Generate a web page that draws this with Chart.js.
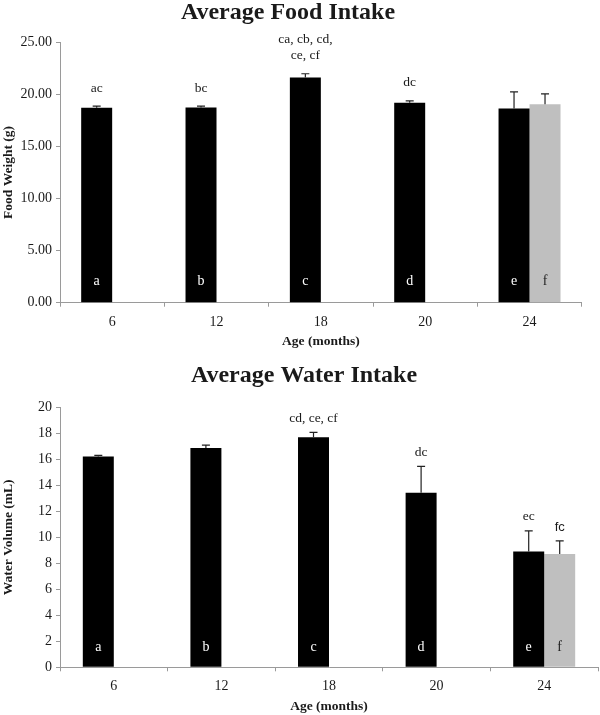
<!DOCTYPE html>
<html>
<head>
<meta charset="utf-8">
<script src="https://cdn.jsdelivr.net/npm/chart.js@4/dist/chart.umd.min.js"></script>
<style>
html,body{margin:0;padding:0;background:#fff;}
#wrap{width:600px;height:715px;position:relative;}
#c1{position:absolute;left:0;top:0;}
#c2{position:absolute;left:0;top:355px;}
</style>
</head>
<body>
<div id="wrap">
<canvas id="c1" width="600" height="355"></canvas>
<canvas id="c2" width="600" height="360"></canvas>
</div>
<script>
// ---- data ----
const ages = ['6', '12', '18', '20', '24'];
const barLetters = ['a', 'b', 'c', 'd', 'e'];
const barLettersF = ['', '', '', '', 'f'];

const foodMeans = [18.72, 18.75, 21.63, 19.2, 18.65];
const foodErr = [0.16, 0.13, 0.35, 0.18, 1.6];
const foodMeansF = [null, null, null, null, 19.05];
const foodErrF = [null, null, null, null, 1.0];
const foodSig = ['ac', 'bc', ['ca, cb, cd,', 'ce, cf'], 'dc', ''];
const foodSigF = ['', '', '', '', ''];
const foodTicks = { min: 0, max: 25, step: 5, decimals: 2 };

const waterMeans = [16.22, 16.86, 17.69, 13.43, 8.9];
const waterErr = [0.08, 0.23, 0.38, 2.03, 1.6];
const waterMeansF = [null, null, null, null, 8.72];
const waterErrF = [null, null, null, null, 1.0];
const waterSig = ['', '', 'cd, ce, cf', 'dc', 'ec'];
const waterSigF = ['', '', '', '', 'fc'];
const waterTicks = { min: 0, max: 20, step: 2, decimals: 0 };

// ---- styling ----
const SERIF = '"Liberation Serif", "Times New Roman", serif';
const SANS = '"Liberation Sans", Arial, sans-serif';
const BLACK = '#000000';
const GRAY = '#bfbfbf';
const AXIS = '#9a9a9a';
const TEXT = '#1a1a1a';

const overlay = {
  id: 'overlay',
  afterDatasetsDraw(chart, args, opts) {
    const ctx = chart.ctx;
    const ys = chart.scales.y;
    const area = chart.chartArea;
    ctx.save();
    opts.series.forEach((s, di) => {
      const meta = chart.getDatasetMeta(di);
      meta.data.forEach((el, i) => {
        const v = s.values[i];
        if (v == null) return;
        const topPx = ys.getPixelForValue(v + s.errors[i]);
        // error bar (upper only)
        ctx.strokeStyle = '#222';
        ctx.lineWidth = 1.2;
        ctx.beginPath();
        ctx.moveTo(el.x, el.y);
        ctx.lineTo(el.x, topPx);
        ctx.moveTo(el.x - 4, topPx);
        ctx.lineTo(el.x + 4, topPx);
        ctx.stroke();
        // letter inside bar
        ctx.textAlign = 'center';
        ctx.textBaseline = 'middle';
        if (s.letters[i]) {
          ctx.fillStyle = s.letterColor;
          ctx.font = '14px ' + SERIF;
          ctx.fillText(s.letters[i], el.x, area.bottom - opts.letterGap);
        }
        // significance label
        const lab = s.sig[i];
        if (lab) {
          const lines = Array.isArray(lab) ? lab : [lab];
          ctx.fillStyle = TEXT;
          ctx.font = s.sigFont;
          lines.forEach((t, j) => {
            const yy = topPx - opts.sigGap - (lines.length - 1 - j) * 16;
            ctx.fillText(t, el.x, yy);
          });
        }
      });
    });
    // chart title
    ctx.fillStyle = TEXT;
    ctx.font = 'bold 24px ' + SERIF;
    ctx.textAlign = 'center';
    ctx.textBaseline = 'alphabetic';
    ctx.fillText(opts.title, opts.titleX, opts.titleY);
    ctx.restore();
  }
};

function makeChart(id, cfg) {
  return new Chart(document.getElementById(id), {
    type: 'bar',
    data: {
      labels: ages,
      datasets: [
        { data: cfg.means, backgroundColor: BLACK, borderWidth: 0,
          categoryPercentage: cfg.catPct, barPercentage: 1.0 },
        { data: cfg.meansF, backgroundColor: GRAY, borderWidth: 0,
          categoryPercentage: cfg.catPct, barPercentage: 1.0 }
      ]
    },
    options: {
      responsive: false,
      animation: false,
      devicePixelRatio: 1,
      layout: { padding: cfg.padding },
      plugins: {
        legend: { display: false },
        tooltip: { enabled: false },
        title: { display: false },
        overlay: {
          title: cfg.title, titleX: cfg.titleX, titleY: cfg.titleY,
          sigGap: cfg.sigGap, letterGap: cfg.letterGap,
          series: [
            { values: cfg.means, errors: cfg.err, sig: cfg.sig, letters: barLetters,
              letterColor: '#ffffff', sigFont: '13.5px ' + SERIF },
            { values: cfg.meansF, errors: cfg.errF, sig: cfg.sigF, letters: barLettersF,
              letterColor: '#222222', sigFont: '13px ' + SANS }
          ]
        }
      },
      scales: {
        x: {
          grid: { display: true, drawOnChartArea: false, drawTicks: true, tickLength: 4, color: AXIS, offset: true },
          border: { display: true, color: AXIS, width: 1 },
          ticks: { color: TEXT, font: { family: SERIF, size: 14 }, padding: 7, maxRotation: 0 },
          title: { display: true, text: 'Age (months)', color: TEXT,
                   font: { family: SERIF, size: 13.5, weight: 'bold' },
                   padding: { top: 0, bottom: cfg.xTitlePad } },
          afterFit: (s) => { s.height = cfg.xHeight; }
        },
        y: {
          min: cfg.ticks.min, max: cfg.ticks.max,
          grid: { display: true, drawOnChartArea: false, drawTicks: true, tickLength: 4, color: AXIS },
          border: { display: true, color: AXIS, width: 1 },
          ticks: { stepSize: cfg.ticks.step, color: TEXT, padding: 4,
                   font: { family: SERIF, size: 14 },
                   callback: (v) => Number(v).toFixed(cfg.ticks.decimals) },
          title: { display: true, text: cfg.yTitle, color: TEXT,
                   font: { family: SERIF, size: 13.5, weight: 'bold' },
                   padding: { top: 0, bottom: 0 } },
          afterFit: (s) => { s.width = 60; }
        }
      }
    },
    plugins: [overlay]
  });
}

makeChart('c1', {
  means: foodMeans, err: foodErr, meansF: foodMeansF, errF: foodErrF,
  sig: foodSig, sigF: foodSigF, ticks: foodTicks,
  catPct: 0.594, yTitle: 'Food Weight (g)',
  title: 'Average Food Intake', titleX: 288, titleY: 19,
  padding: { top: 42.3, right: 18.3, bottom: 0, left: 0 },
  xHeight: 52.3, xTitlePad: 5, sigGap: 18, letterGap: 21
});

makeChart('c2', {
  means: waterMeans, err: waterErr, meansF: waterMeansF, errF: waterErrF,
  sig: waterSig, sigF: waterSigF, ticks: waterTicks,
  catPct: 0.576, yTitle: 'Water Volume (mL)',
  title: 'Average Water Intake', titleX: 304, titleY: 27,
  padding: { top: 52.3, right: 2, bottom: 0, left: 0 },
  xHeight: 47.7, xTitlePad: 0, sigGap: 14, letterGap: 20
});
</script>
</body>
</html>
